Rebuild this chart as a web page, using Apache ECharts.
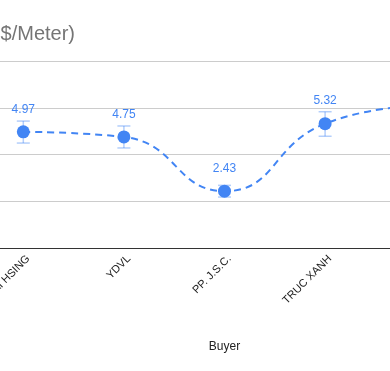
<!DOCTYPE html>
<html>
<head>
<meta charset="utf-8">
<script src="https://cdn.jsdelivr.net/npm/echarts@6/dist/echarts.min.js"></script>
<style>html,body{margin:0;padding:0;background:#fff;}#chart{width:390px;height:371px;}</style>
</head>
<body>
<div id="chart"></div>
<script>
const buyers = ['TAI HSING', 'YDVL', 'PP. J.S.C.', 'TRUC XANH', 'AN PHU'];
const avgPrice = [4.97, 4.75, 2.43, 5.32, 6.1];
const errLow = [4.49, 4.28, 2.18, 4.78, 5.6];
const errHigh = [5.43, 5.22, 2.68, 5.83, 6.6];
const yTicks = [0, 2, 4, 6, 8];

const chart = echarts.init(document.getElementById('chart'));
const font = '"Liberation Sans", Arial, sans-serif';
chart.setOption({
  animation: false,
  title: {
    text: 'Average Price (US$/Meter)',
    left: 70, top: 19, textAlign: 'right',
    textStyle: { fontFamily: font, fontSize: 20, fontWeight: 'normal', color: '#757575' }
  },
  grid: { left: -27, right: -86, top: 61, bottom: 123, containLabel: false, outerBoundsMode: 'none' },
  xAxis: {
    type: 'category', data: buyers, boundaryGap: true,
    name: 'Buyer', nameLocation: 'middle', nameGap: 93,
    nameTextStyle: { fontFamily: font, fontSize: 12, color: '#222' },
    axisLine: { lineStyle: { color: '#333', width: 1 } },
    axisTick: { show: false },
    axisLabel: { rotate: 45, interval: 0, margin: 14, padding: [0, -7, 0, 0], fontFamily: font, fontSize: 11, color: '#222' }
  },
  yAxis: {
    type: 'value', min: yTicks[0], max: yTicks[yTicks.length - 1], interval: 2,
    axisLine: { show: false }, axisTick: { show: false }, axisLabel: { show: false },
    splitLine: { lineStyle: { color: '#cccccc', width: 1 } }
  },
  series: [
    {
      type: 'custom', z: 1,
      data: buyers.map((b, i) => [i, errLow[i], errHigh[i]]),
      renderItem: function (params, api) {
        const lo = api.coord([api.value(0), api.value(1)]);
        const hi = api.coord([api.value(0), api.value(2)]);
        const w = 6.5;
        const st = { stroke: 'rgba(66,133,244,0.4)', lineWidth: 1.5 };
        return { type: 'group', children: [
          { type: 'line', shape: { x1: lo[0], y1: lo[1], x2: hi[0], y2: hi[1] }, style: st },
          { type: 'line', shape: { x1: lo[0] - w, y1: lo[1], x2: lo[0] + w, y2: lo[1] }, style: st },
          { type: 'line', shape: { x1: hi[0] - w, y1: hi[1], x2: hi[0] + w, y2: hi[1] }, style: st }
        ]};
      }
    },
    {
      type: 'line', z: 3, data: avgPrice, smooth: 0.5,
      symbol: 'circle', symbolSize: 13,
      itemStyle: { color: '#4285f4' },
      lineStyle: { color: '#4285f4', width: 2, type: [7, 5] },
      label: { show: true, position: 'top', distance: 10, fontFamily: font, fontSize: 12, color: '#4285f4',
        formatter: p => p.value.toFixed(2) }
    }
  ]
});
</script>
</body>
</html>
